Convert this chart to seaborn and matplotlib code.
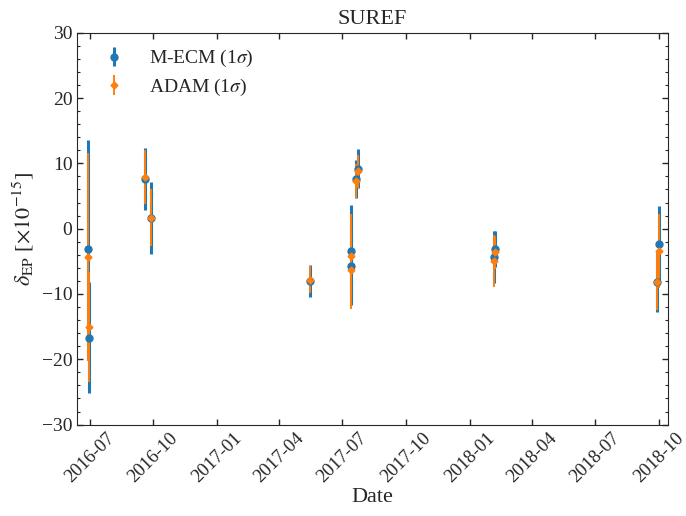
import pandas as pd
import matplotlib
matplotlib.use("Agg")
import matplotlib.pyplot as plt
import matplotlib.dates as mdates
from matplotlib.ticker import MultipleLocator
import seaborn as sns

# Observation dates (one per measurement)
dates = ["2016-06-29", "2016-06-30", "2016-09-19", "2016-09-27",
         "2017-05-15", "2017-07-13", "2017-07-14", "2017-07-21", "2017-07-24",
         "2018-02-05", "2018-02-07", "2018-09-29", "2018-10-01"]

# M-ECM estimates and 1-sigma errors (x1e-15)
mecm_val = [-3.1, -16.7, 7.6, 1.6, -8.0, -3.4, -5.7, 7.6, 9.2, -4.3, -3.1, -8.2, -2.3]
mecm_err = [16.7, 8.5, 4.8, 5.5, 2.5, 7.0, 6.0, 2.9, 3.0, 4.0, 2.7, 4.6, 5.8]

# ADAM estimates and 1-sigma errors (x1e-15)
adam_val = [-4.3, -15.1, 7.9, 1.7, -7.8, -4.2, -6.4, 7.3, 8.8, -4.9, -3.6, -8.1, -3.4]
adam_err = [15.9, 8.4, 4.2, 4.4, 2.1, 6.5, 5.9, 2.6, 2.5, 4.0, 2.5, 4.4, 5.7]

df = pd.DataFrame({
    "Date": pd.to_datetime(dates),
    "MECM": mecm_val, "MECM_err": mecm_err,
    "ADAM": adam_val, "ADAM_err": adam_err,
})

sns.set_style("ticks")
plt.rcParams["font.family"] = ["Liberation Serif", "DejaVu Serif"]
plt.rcParams["mathtext.fontset"] = "stix"
plt.rcParams["font.size"] = 16
plt.rcParams["xtick.direction"] = "in"
plt.rcParams["ytick.direction"] = "in"
plt.rcParams["xtick.top"] = True
plt.rcParams["ytick.right"] = True

fig = plt.figure(figsize=(6.86, 5.16), dpi=100)
ax = fig.add_axes([0.1127, 0.1771, 0.8606, 0.7595])

blue, orange = sns.color_palette("tab10")[:2]

ax.errorbar(df["Date"], df["MECM"], yerr=df["MECM_err"], fmt="o",
            color=blue, markersize=5, elinewidth=2.2, capsize=0,
            label=r"M-ECM (1$\sigma$)")
ax.errorbar(df["Date"], df["ADAM"], yerr=df["ADAM_err"], fmt="D",
            color=orange, markersize=3.5, elinewidth=1.4, capsize=0,
            label=r"ADAM (1$\sigma$)")

ax.set_xlim(pd.Timestamp("2016-06-13"), pd.Timestamp("2018-10-14"))
ax.set_ylim(-30, 30)
ax.yaxis.set_major_locator(MultipleLocator(10))
ax.yaxis.set_minor_locator(MultipleLocator(2))
ax.xaxis.set_major_locator(mdates.MonthLocator(bymonth=[1, 4, 7, 10]))
ax.xaxis.set_major_formatter(mdates.DateFormatter("%Y-%m"))
ax.tick_params(axis="both", which="major", labelsize=14, length=4, width=1)
ax.tick_params(axis="x", which="major", labelsize=13.5)
ax.tick_params(axis="y", which="minor", length=2, width=0.8)
plt.setp(ax.get_xticklabels(), rotation=45)

ax.set_title("SUREF", fontsize=16)
ax.set_xlabel("Date", fontsize=16, labelpad=2)
ax.set_ylabel(r"$\delta_{\rm EP}$ [$\times 10^{-15}$]", fontsize=16)
ax.legend(loc="upper left", frameon=False, fontsize=14,
          bbox_to_anchor=(0.0, 1.005), labelspacing=0.38)

fig.savefig("out.png", dpi=100)
